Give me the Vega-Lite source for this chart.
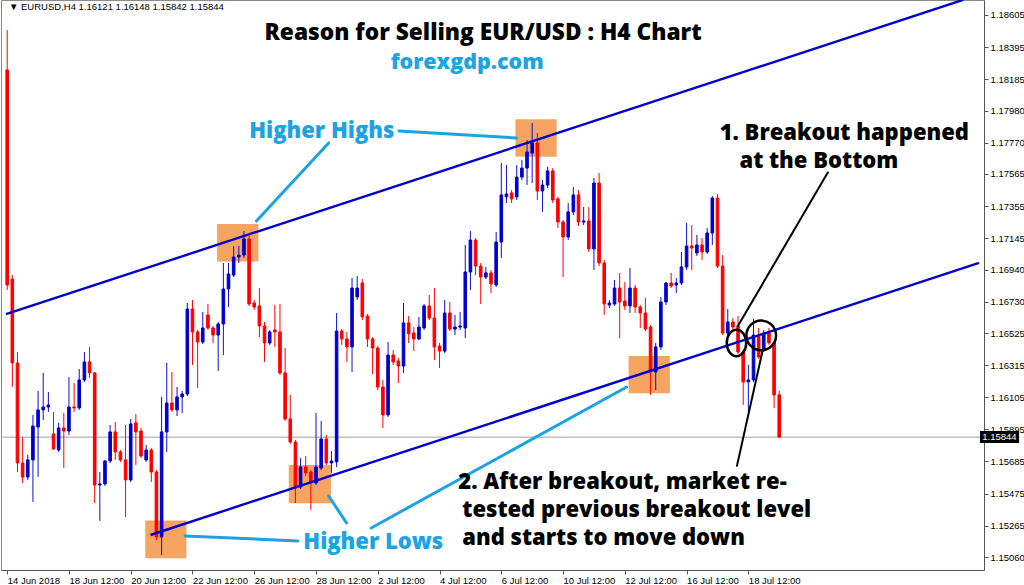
{
  "$schema": "https://vega.github.io/schema/vega-lite/v6.json",
  "width": 983,
  "height": 570,
  "autosize": {"type": "none"},
  "padding": {"left": 1, "top": 0, "right": 40, "bottom": 15},
  "background": "white",
  "resolve": {"axis": {"x": "independent", "y": "independent"}},
  "config": {
    "view": {"stroke": "#8a8a8a", "strokeWidth": 1},
    "axis": {"labelFont": "Liberation Sans", "labelFontSize": 9.5, "labelColor": "#000", "domainColor": "#555", "tickColor": "#555", "grid": false, "title": null}
  },
  "datasets": {
    "candles": [
      {"i":0,"open":1.18245,"high":1.18507,"low":1.16806,"close":1.16839},
      {"i":1,"open":1.16878,"high":1.16904,"low":1.16172,"close":1.16329},
      {"i":2,"open":1.16329,"high":1.16401,"low":1.15616,"close":1.15675},
      {"i":3,"open":1.15675,"high":1.15845,"low":1.15544,"close":1.15583},
      {"i":4,"open":1.15583,"high":1.15727,"low":1.15564,"close":1.15695},
      {"i":5,"open":1.15695,"high":1.15989,"low":1.1542,"close":1.15917},
      {"i":6,"open":1.1591,"high":1.16146,"low":1.15583,"close":1.16022},
      {"i":7,"open":1.16022,"high":1.16264,"low":1.15956,"close":1.16041},
      {"i":8,"open":1.16041,"high":1.16139,"low":1.16009,"close":1.16054},
      {"i":9,"open":1.15865,"high":1.16009,"low":1.1576,"close":1.15767},
      {"i":10,"open":1.1576,"high":1.15937,"low":1.15747,"close":1.15904},
      {"i":11,"open":1.15904,"high":1.16002,"low":1.15642,"close":1.15884},
      {"i":12,"open":1.15884,"high":1.16237,"low":1.15858,"close":1.16041},
      {"i":13,"open":1.16041,"high":1.16198,"low":1.16009,"close":1.16035},
      {"i":14,"open":1.16035,"high":1.1629,"low":1.16022,"close":1.16218},
      {"i":15,"open":1.16218,"high":1.16401,"low":1.16205,"close":1.16336},
      {"i":16,"open":1.16336,"high":1.16434,"low":1.16231,"close":1.16264},
      {"i":17,"open":1.16264,"high":1.1627,"low":1.15413,"close":1.15531},
      {"i":18,"open":1.15531,"high":1.15616,"low":1.15296,"close":1.15538},
      {"i":19,"open":1.15538,"high":1.15695,"low":1.15525,"close":1.15688},
      {"i":20,"open":1.15688,"high":1.15923,"low":1.15675,"close":1.15878},
      {"i":21,"open":1.15878,"high":1.15943,"low":1.15695,"close":1.15747},
      {"i":22,"open":1.15747,"high":1.1576,"low":1.15682,"close":1.15695},
      {"i":23,"open":1.15695,"high":1.15923,"low":1.15322,"close":1.15564},
      {"i":24,"open":1.15564,"high":1.15963,"low":1.15551,"close":1.1593},
      {"i":25,"open":1.15937,"high":1.15995,"low":1.15662,"close":1.15878},
      {"i":26,"open":1.15884,"high":1.15904,"low":1.15708,"close":1.15721},
      {"i":27,"open":1.15695,"high":1.15793,"low":1.15682,"close":1.1576},
      {"i":28,"open":1.1576,"high":1.15773,"low":1.15551,"close":1.15616},
      {"i":29,"open":1.15616,"high":1.15629,"low":1.15171,"close":1.15191},
      {"i":30,"open":1.15191,"high":1.16107,"low":1.15073,"close":1.15878},
      {"i":31,"open":1.15878,"high":1.16329,"low":1.15747,"close":1.16067},
      {"i":32,"open":1.16067,"high":1.1627,"low":1.16009,"close":1.16022},
      {"i":33,"open":1.16022,"high":1.16172,"low":1.15982,"close":1.16107},
      {"i":34,"open":1.16107,"high":1.16146,"low":1.16002,"close":1.16126},
      {"i":35,"open":1.16126,"high":1.16721,"low":1.16113,"close":1.16682},
      {"i":36,"open":1.16682,"high":1.16741,"low":1.16316,"close":1.16532},
      {"i":37,"open":1.16532,"high":1.16545,"low":1.16165,"close":1.16466},
      {"i":38,"open":1.16466,"high":1.16663,"low":1.16453,"close":1.16558},
      {"i":39,"open":1.16643,"high":1.16715,"low":1.16545,"close":1.16558},
      {"i":40,"open":1.16558,"high":1.16571,"low":1.1646,"close":1.16512},
      {"i":41,"open":1.16512,"high":1.16597,"low":1.16277,"close":1.16584},
      {"i":42,"open":1.16584,"high":1.16983,"low":1.16381,"close":1.16813},
      {"i":43,"open":1.16813,"high":1.16983,"low":1.16695,"close":1.16911},
      {"i":44,"open":1.16904,"high":1.17094,"low":1.16891,"close":1.17022},
      {"i":45,"open":1.17022,"high":1.17094,"low":1.16983,"close":1.17035},
      {"i":46,"open":1.17035,"high":1.17192,"low":1.17016,"close":1.1714},
      {"i":47,"open":1.1714,"high":1.1716,"low":1.16702,"close":1.16715},
      {"i":48,"open":1.16721,"high":1.16741,"low":1.16676,"close":1.16695},
      {"i":49,"open":1.16702,"high":1.16819,"low":1.16499,"close":1.16571},
      {"i":50,"open":1.16571,"high":1.16597,"low":1.16336,"close":1.1646},
      {"i":51,"open":1.1646,"high":1.16545,"low":1.16447,"close":1.16532},
      {"i":52,"open":1.16545,"high":1.16708,"low":1.16434,"close":1.16532},
      {"i":53,"open":1.16532,"high":1.16715,"low":1.1625,"close":1.16264},
      {"i":54,"open":1.16264,"high":1.16427,"low":1.1595,"close":1.15963},
      {"i":55,"open":1.15963,"high":1.1612,"low":1.15799,"close":1.15812},
      {"i":56,"open":1.15812,"high":1.15825,"low":1.15413,"close":1.15518},
      {"i":57,"open":1.15518,"high":1.15708,"low":1.15505,"close":1.15649},
      {"i":58,"open":1.15649,"high":1.15721,"low":1.1559,"close":1.1561},
      {"i":59,"open":1.15616,"high":1.15629,"low":1.15368,"close":1.15551},
      {"i":60,"open":1.15544,"high":1.16002,"low":1.15531,"close":1.15649},
      {"i":61,"open":1.15642,"high":1.1595,"low":1.15629,"close":1.15832},
      {"i":62,"open":1.15832,"high":1.15858,"low":1.15662,"close":1.15675},
      {"i":63,"open":1.15675,"high":1.15753,"low":1.1561,"close":1.15688},
      {"i":64,"open":1.15682,"high":1.16656,"low":1.15649,"close":1.16538},
      {"i":65,"open":1.16538,"high":1.16551,"low":1.16447,"close":1.16486},
      {"i":66,"open":1.16486,"high":1.16532,"low":1.16336,"close":1.16434},
      {"i":67,"open":1.16434,"high":1.16885,"low":1.1627,"close":1.16819},
      {"i":68,"open":1.16761,"high":1.16898,"low":1.16741,"close":1.16819},
      {"i":69,"open":1.16852,"high":1.16878,"low":1.1661,"close":1.1663},
      {"i":70,"open":1.16636,"high":1.16649,"low":1.16434,"close":1.16486},
      {"i":71,"open":1.16486,"high":1.16499,"low":1.16257,"close":1.16427},
      {"i":72,"open":1.16427,"high":1.1644,"low":1.16152,"close":1.16172},
      {"i":73,"open":1.16172,"high":1.16218,"low":1.15904,"close":1.15989},
      {"i":74,"open":1.15989,"high":1.16466,"low":1.15976,"close":1.16381},
      {"i":75,"open":1.16381,"high":1.16414,"low":1.16316,"close":1.16336},
      {"i":76,"open":1.16342,"high":1.16362,"low":1.16198,"close":1.16309},
      {"i":77,"open":1.16309,"high":1.16721,"low":1.16264,"close":1.16591},
      {"i":78,"open":1.16591,"high":1.16636,"low":1.1646,"close":1.16519},
      {"i":79,"open":1.16525,"high":1.16564,"low":1.16407,"close":1.16486},
      {"i":80,"open":1.16486,"high":1.1663,"low":1.16479,"close":1.16564},
      {"i":81,"open":1.16558,"high":1.16715,"low":1.16545,"close":1.16702},
      {"i":82,"open":1.16702,"high":1.16774,"low":1.1661,"close":1.16623},
      {"i":83,"open":1.16623,"high":1.16819,"low":1.16349,"close":1.16434},
      {"i":84,"open":1.1644,"high":1.1646,"low":1.16296,"close":1.16407},
      {"i":85,"open":1.16407,"high":1.16741,"low":1.16394,"close":1.16656},
      {"i":86,"open":1.16656,"high":1.16728,"low":1.16538,"close":1.16551},
      {"i":87,"open":1.16551,"high":1.16643,"low":1.16512,"close":1.16564},
      {"i":88,"open":1.16564,"high":1.16663,"low":1.16545,"close":1.16571},
      {"i":89,"open":1.16558,"high":1.17101,"low":1.16492,"close":1.16924},
      {"i":90,"open":1.16924,"high":1.17192,"low":1.16806,"close":1.17133},
      {"i":91,"open":1.17133,"high":1.17146,"low":1.16904,"close":1.16963},
      {"i":92,"open":1.16963,"high":1.16983,"low":1.16715,"close":1.16891},
      {"i":93,"open":1.16891,"high":1.16957,"low":1.16878,"close":1.16918},
      {"i":94,"open":1.16918,"high":1.16937,"low":1.16787,"close":1.16846},
      {"i":95,"open":1.16839,"high":1.17186,"low":1.16826,"close":1.1712},
      {"i":96,"open":1.1712,"high":1.17637,"low":1.17016,"close":1.17428},
      {"i":97,"open":1.17415,"high":1.17624,"low":1.17375,"close":1.17434},
      {"i":98,"open":1.17441,"high":1.1746,"low":1.17375,"close":1.17402},
      {"i":99,"open":1.17415,"high":1.17624,"low":1.17395,"close":1.17545},
      {"i":100,"open":1.17545,"high":1.17657,"low":1.17526,"close":1.17604},
      {"i":101,"open":1.17604,"high":1.17787,"low":1.17493,"close":1.17709},
      {"i":102,"open":1.17702,"high":1.17899,"low":1.17506,"close":1.17768},
      {"i":103,"open":1.17768,"high":1.17833,"low":1.17395,"close":1.17454},
      {"i":104,"open":1.17454,"high":1.17526,"low":1.17317,"close":1.17493},
      {"i":105,"open":1.17493,"high":1.17611,"low":1.17473,"close":1.17585},
      {"i":106,"open":1.17585,"high":1.17604,"low":1.17375,"close":1.17395},
      {"i":107,"open":1.17402,"high":1.17415,"low":1.17212,"close":1.17251},
      {"i":108,"open":1.17251,"high":1.17264,"low":1.16891,"close":1.17153},
      {"i":109,"open":1.17153,"high":1.17375,"low":1.17133,"close":1.17317},
      {"i":110,"open":1.17317,"high":1.1748,"low":1.17297,"close":1.17428},
      {"i":111,"open":1.17428,"high":1.1746,"low":1.17225,"close":1.17251},
      {"i":112,"open":1.17251,"high":1.17349,"low":1.17231,"close":1.17258},
      {"i":113,"open":1.17258,"high":1.17349,"low":1.17055,"close":1.17075},
      {"i":114,"open":1.17075,"high":1.17539,"low":1.16937,"close":1.17506},
      {"i":115,"open":1.17506,"high":1.17572,"low":1.16963,"close":1.16983},
      {"i":116,"open":1.16983,"high":1.17003,"low":1.16643,"close":1.16715},
      {"i":117,"open":1.16708,"high":1.16741,"low":1.16689,"close":1.16721},
      {"i":118,"open":1.16715,"high":1.16872,"low":1.16702,"close":1.16819},
      {"i":119,"open":1.16819,"high":1.16918,"low":1.16492,"close":1.16728},
      {"i":120,"open":1.16734,"high":1.16859,"low":1.16676,"close":1.16702},
      {"i":121,"open":1.16702,"high":1.1695,"low":1.16656,"close":1.16819},
      {"i":122,"open":1.16819,"high":1.16839,"low":1.16656,"close":1.16695},
      {"i":123,"open":1.16695,"high":1.16708,"low":1.16558,"close":1.16656},
      {"i":124,"open":1.16656,"high":1.16754,"low":1.16538,"close":1.16551},
      {"i":125,"open":1.16564,"high":1.16577,"low":1.1612,"close":1.1627},
      {"i":126,"open":1.1627,"high":1.1646,"low":1.16152,"close":1.16434},
      {"i":127,"open":1.16434,"high":1.16761,"low":1.16414,"close":1.16728},
      {"i":128,"open":1.16728,"high":1.16859,"low":1.16708,"close":1.16852},
      {"i":129,"open":1.16852,"high":1.16918,"low":1.16819,"close":1.16833},
      {"i":130,"open":1.16839,"high":1.16885,"low":1.16787,"close":1.16852},
      {"i":131,"open":1.16852,"high":1.17055,"low":1.16839,"close":1.16957},
      {"i":132,"open":1.16957,"high":1.17245,"low":1.16937,"close":1.17094},
      {"i":133,"open":1.17094,"high":1.17231,"low":1.16937,"close":1.17081},
      {"i":134,"open":1.17048,"high":1.17166,"low":1.17029,"close":1.17101},
      {"i":135,"open":1.17101,"high":1.17146,"low":1.17003,"close":1.17055},
      {"i":136,"open":1.17055,"high":1.17212,"low":1.17042,"close":1.17179},
      {"i":137,"open":1.17179,"high":1.17421,"low":1.17101,"close":1.17408},
      {"i":138,"open":1.17408,"high":1.17434,"low":1.1695,"close":1.16963},
      {"i":139,"open":1.16963,"high":1.17035,"low":1.16512,"close":1.16525},
      {"i":140,"open":1.16525,"high":1.16682,"low":1.16512,"close":1.16597},
      {"i":141,"open":1.16597,"high":1.16623,"low":1.16551,"close":1.16564},
      {"i":142,"open":1.16571,"high":1.16636,"low":1.16388,"close":1.16401},
      {"i":143,"open":1.16401,"high":1.16414,"low":1.16054,"close":1.16205},
      {"i":144,"open":1.16205,"high":1.16316,"low":1.16009,"close":1.16218},
      {"i":145,"open":1.16218,"high":1.16617,"low":1.16205,"close":1.16512},
      {"i":146,"open":1.16506,"high":1.16558,"low":1.16355,"close":1.16368},
      {"i":147,"open":1.16421,"high":1.16545,"low":1.16401,"close":1.16525},
      {"i":148,"open":1.16525,"high":1.16558,"low":1.16447,"close":1.1646},
      {"i":149,"open":1.1646,"high":1.16473,"low":1.16035,"close":1.1612},
      {"i":150,"open":1.16121,"high":1.16148,"low":1.15842,"close":1.15844}
    ],
    "channel": [
      {"x1":-0.23,"p1":1.16648,"x2":185.73,"p2":1.18704},
      {"x1":27.85,"p1":1.15204,"x2":188.81,"p2":1.16983}
    ],
    "boxes": [
      {"x1":26.83,"x2":34.83,"p1":1.15298,"p2":1.15052},
      {"x1":40.79,"x2":48.81,"p1":1.17238,"p2":1.16992},
      {"x1":98.75,"x2":106.75,"p1":1.17923,"p2":1.17678},
      {"x1":54.71,"x2":62.9,"p1":1.15662,"p2":1.15411},
      {"x1":120.73,"x2":128.75,"p1":1.16375,"p2":1.16131}
    ],
    "pointers": [
      {"x1":76.12,"p1":1.17846,"x2":99.0,"p2":1.17801},
      {"x1":62.46,"p1":1.17768,"x2":48.42,"p2":1.17258},
      {"x1":65.92,"p1":1.15283,"x2":62.46,"p2":1.15459},
      {"x1":56.5,"p1":1.15165,"x2":34.58,"p2":1.15198},
      {"x1":70.73,"p1":1.1525,"x2":120.35,"p2":1.16172}
    ],
    "blackLines": [
      {"x1":159.52,"p1":1.1758,"x2":141.88,"p2":1.16566},
      {"x1":146.88,"p1":1.16427,"x2":141.75,"p2":1.15651}
    ],
    "blueLabels": [
      {"t":"Higher Highs","x":61.12,"p":1.17846},
      {"t":"Higher Lows","x":71.12,"p":1.15157}
    ],
    "notes": [
      {"t":"1. Breakout happened","x":138.42,"p":1.17836},
      {"t":"at the Bottom","x":142.27,"p":1.17650},
      {"t":"2. After breakout, market re-","x":87.65,"p":1.15551},
      {"t":"tested previous breakout level","x":88.42,"p":1.15368},
      {"t":"and starts to move down","x":88.42,"p":1.15184}
    ]
  },
  "layer": [
    {
      "data": {"name": "boxes"},
      "mark": {"type": "rect", "color": "#F5A462"},
      "encoding": {
        "x": {"field": "x1", "type": "quantitative", "scale": {"domain": [-0.2308, 188.81], "nice": false, "zero": false}, "axis": null},
        "x2": {"field": "x2"},
        "y": {"field": "p1", "type": "quantitative", "scale": {"domain": [1.14975, 1.18703], "nice": false, "zero": false}, "axis": null},
        "y2": {"field": "p2"}
      }
    },
    {
      "data": {"values": [{"p": 1.15844}]},
      "mark": {"type": "rule", "color": "#a0a0a0", "strokeWidth": 1},
      "encoding": {
        "y": {"field": "p", "type": "quantitative", "scale": {"domain": [1.14975, 1.18703], "nice": false, "zero": false}, "axis": null}
      }
    },
    {
      "data": {"name": "candles"},
      "mark": {"type": "rule", "strokeWidth": 1},
      "encoding": {
        "x": {"field": "i", "type": "quantitative", "scale": {"domain": [-0.2308, 188.81], "nice": false, "zero": false},
          "axis": {"orient": "bottom", "values": [0,12,24,36,48,60,72,84,96,108,120,132,144], "labelExpr": "['14 Jun 2018','18 Jun 12:00','20 Jun 12:00','22 Jun 12:00','26 Jun 12:00','28 Jun 12:00','2 Jul 12:00','4 Jul 12:00','6 Jul 12:00','10 Jul 12:00','12 Jul 12:00','16 Jul 12:00','18 Jul 12:00'][round(datum.value/12)]", "labelAlign": "left", "labelBaseline": "top", "labelPadding": 1, "tickSize": 4, "labelOverlap": false, "labelFlush": false, "title": null}},
        "y": {"field": "low", "type": "quantitative", "scale": {"domain": [1.14975, 1.18703], "nice": false, "zero": false},
          "axis": {"orient": "right", "values": [1.18605,1.18395,1.18185,1.1798,1.1777,1.17565,1.17355,1.17145,1.1694,1.1673,1.16525,1.16315,1.16105,1.15895,1.15685,1.15475,1.15265,1.1506], "format": ".5f", "tickSize": 4, "labelPadding": 2, "labelAlign": "left", "labelOverlap": false, "labelFlush": false, "title": null}},
        "y2": {"field": "high"},
        "color": {"condition": {"test": "datum.close >= datum.open", "value": "#1010D0"}, "value": "#FF0000"}
      }
    },
    {
      "data": {"name": "candles"},
      "mark": {"type": "bar", "width": 2.6, "strokeWidth": 1},
      "encoding": {
        "x": {"field": "i", "type": "quantitative", "scale": {"domain": [-0.2308, 188.81], "nice": false, "zero": false}, "axis": null},
        "y": {"field": "open", "type": "quantitative", "scale": {"domain": [1.14975, 1.18703], "nice": false, "zero": false}, "axis": null},
        "y2": {"field": "close"},
        "color": {"condition": {"test": "datum.close >= datum.open", "value": "#0000CD"}, "value": "#FF0000"},
        "stroke": {"condition": {"test": "datum.close >= datum.open", "value": "#0000CD"}, "value": "#FF0000"}
      }
    },
    {
      "data": {"name": "channel"},
      "mark": {"type": "rule", "color": "#0000CD", "strokeWidth": 2.4, "clip": true},
      "encoding": {
        "x": {"field": "x1", "type": "quantitative", "scale": {"domain": [-0.2308, 188.81], "nice": false, "zero": false}, "axis": null},
        "x2": {"field": "x2"},
        "y": {"field": "p1", "type": "quantitative", "scale": {"domain": [1.14975, 1.18703], "nice": false, "zero": false}, "axis": null},
        "y2": {"field": "p2"}
      }
    },
    {
      "data": {"name": "pointers"},
      "mark": {"type": "rule", "color": "#1CA3E3", "strokeWidth": 3, "strokeCap": "round"},
      "encoding": {
        "x": {"field": "x1", "type": "quantitative", "scale": {"domain": [-0.2308, 188.81], "nice": false, "zero": false}, "axis": null},
        "x2": {"field": "x2"},
        "y": {"field": "p1", "type": "quantitative", "scale": {"domain": [1.14975, 1.18703], "nice": false, "zero": false}, "axis": null},
        "y2": {"field": "p2"}
      }
    },
    {
      "data": {"name": "blackLines"},
      "mark": {"type": "rule", "color": "#000000", "strokeWidth": 2},
      "encoding": {
        "x": {"field": "x1", "type": "quantitative", "scale": {"domain": [-0.2308, 188.81], "nice": false, "zero": false}, "axis": null},
        "x2": {"field": "x2"},
        "y": {"field": "p1", "type": "quantitative", "scale": {"domain": [1.14975, 1.18703], "nice": false, "zero": false}, "axis": null},
        "y2": {"field": "p2"}
      }
    },
    {
      "data": {"values": [{"x": 141.69, "p": 1.1646}]},
      "mark": {"type": "point", "shape": "M-0.73,0 A0.73,1 0 1,0 0.73,0 A0.73,1 0 1,0 -0.73,0 Z", "size": 708, "filled": false, "stroke": "#000", "strokeWidth": 2.5, "opacity": 1},
      "encoding": {
        "x": {"field": "x", "type": "quantitative", "scale": {"domain": [-0.2308, 188.81], "nice": false, "zero": false}, "axis": null},
        "y": {"field": "p", "type": "quantitative", "scale": {"domain": [1.14975, 1.18703], "nice": false, "zero": false}, "axis": null}
      }
    },
    {
      "data": {"values": [{"x": 146.5, "p": 1.16509}]},
      "mark": {"type": "point", "shape": "circle", "size": 880, "filled": false, "stroke": "#000", "strokeWidth": 2.5, "opacity": 1},
      "encoding": {
        "x": {"field": "x", "type": "quantitative", "scale": {"domain": [-0.2308, 188.81], "nice": false, "zero": false}, "axis": null},
        "y": {"field": "p", "type": "quantitative", "scale": {"domain": [1.14975, 1.18703], "nice": false, "zero": false}, "axis": null}
      }
    },
    {
      "data": {"values": [{"t": "Reason for Selling EUR/USD : H4 Chart", "x": 92.46, "p": 1.18487}]},
      "mark": {"type": "text", "font": "Open Sans", "fontWeight": 800, "fontSize": 22.7, "color": "#000", "align": "center", "baseline": "middle"},
      "encoding": {
        "x": {"field": "x", "type": "quantitative", "scale": {"domain": [-0.2308, 188.81], "nice": false, "zero": false}, "axis": null},
        "y": {"field": "p", "type": "quantitative", "scale": {"domain": [1.14975, 1.18703], "nice": false, "zero": false}, "axis": null},
        "text": {"field": "t"}
      }
    },
    {
      "data": {"values": [{"t": "forexgdp.com", "x": 89.38, "p": 1.18291}]},
      "mark": {"type": "text", "font": "Open Sans", "fontWeight": 800, "fontSize": 21.5, "color": "#1CA3E3", "align": "center", "baseline": "middle"},
      "encoding": {
        "x": {"field": "x", "type": "quantitative", "scale": {"domain": [-0.2308, 188.81], "nice": false, "zero": false}, "axis": null},
        "y": {"field": "p", "type": "quantitative", "scale": {"domain": [1.14975, 1.18703], "nice": false, "zero": false}, "axis": null},
        "text": {"field": "t"}
      }
    },
    {
      "data": {"name": "blueLabels"},
      "mark": {"type": "text", "font": "Open Sans", "fontWeight": 800, "fontSize": 22, "color": "#1CA3E3", "align": "center", "baseline": "middle"},
      "encoding": {
        "x": {"field": "x", "type": "quantitative", "scale": {"domain": [-0.2308, 188.81], "nice": false, "zero": false}, "axis": null},
        "y": {"field": "p", "type": "quantitative", "scale": {"domain": [1.14975, 1.18703], "nice": false, "zero": false}, "axis": null},
        "text": {"field": "t"}
      }
    },
    {
      "data": {"name": "notes"},
      "mark": {"type": "text", "font": "Open Sans", "fontWeight": 800, "fontSize": 22, "color": "#000", "align": "left", "baseline": "middle"},
      "encoding": {
        "x": {"field": "x", "type": "quantitative", "scale": {"domain": [-0.2308, 188.81], "nice": false, "zero": false}, "axis": null},
        "y": {"field": "p", "type": "quantitative", "scale": {"domain": [1.14975, 1.18703], "nice": false, "zero": false}, "axis": null},
        "text": {"field": "t"}
      }
    },
    {
      "data": {"values": [{"t": "▼ EURUSD,H4  1.16121 1.16148 1.15842 1.15844", "x": 0.35, "p": 1.18657}]},
      "mark": {"type": "text", "font": "Liberation Sans", "fontSize": 9.5, "color": "#000", "align": "left", "baseline": "middle"},
      "encoding": {
        "x": {"field": "x", "type": "quantitative", "scale": {"domain": [-0.2308, 188.81], "nice": false, "zero": false}, "axis": null},
        "y": {"field": "p", "type": "quantitative", "scale": {"domain": [1.14975, 1.18703], "nice": false, "zero": false}, "axis": null},
        "text": {"field": "t"}
      }
    },
    {
      "data": {"values": [{"x1": 189.0, "x2": 196.6, "p1": 1.15884, "p2": 1.15806}]},
      "mark": {"type": "rect", "color": "#000"},
      "encoding": {
        "x": {"field": "x1", "type": "quantitative", "scale": {"domain": [-0.2308, 188.81], "nice": false, "zero": false}, "axis": null},
        "x2": {"field": "x2"},
        "y": {"field": "p1", "type": "quantitative", "scale": {"domain": [1.14975, 1.18703], "nice": false, "zero": false}, "axis": null},
        "y2": {"field": "p2"}
      }
    },
    {
      "data": {"values": [{"t": "1.15844", "x": 189.45, "p": 1.15845}]},
      "mark": {"type": "text", "font": "Liberation Sans", "fontSize": 9.5, "color": "#fff", "align": "left", "baseline": "middle"},
      "encoding": {
        "x": {"field": "x", "type": "quantitative", "scale": {"domain": [-0.2308, 188.81], "nice": false, "zero": false}, "axis": null},
        "y": {"field": "p", "type": "quantitative", "scale": {"domain": [1.14975, 1.18703], "nice": false, "zero": false}, "axis": null},
        "text": {"field": "t"}
      }
    }
  ]
}
